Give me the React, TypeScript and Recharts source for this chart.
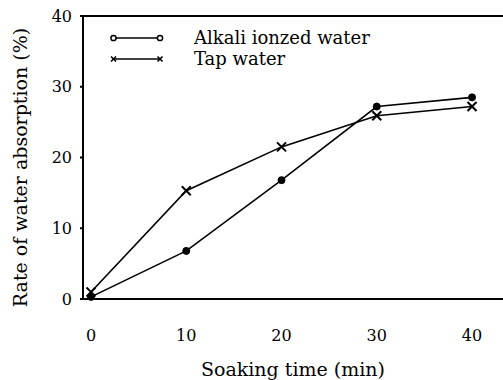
import React from 'react';
import { LineChart, Line, XAxis, YAxis, Legend, ReferenceLine, Label } from 'recharts';

const soakingTime = [0, 10, 20, 30, 40];
const alkaliWater = [0.3, 6.8, 16.8, 27.2, 28.5];
const tapWater = [1.0, 15.3, 21.5, 25.9, 27.2];
const xTicks = [0, 10, 20, 30, 40];
const yTicks = [0, 10, 20, 30, 40];
const seriesNames = ['Alkali ionzed water', 'Tap water'];

const data = soakingTime.map((t, i) => ({ t, alkali: alkaliWater[i], tap: tapWater[i] }));

const FONT = '"DejaVu Serif", serif';

const CircleDot = (props: any) => {
  const { cx, cy } = props;
  if (cx == null || cy == null) return null;
  return <circle cx={cx} cy={cy} r={3.5} fill="#000" stroke="#000" strokeWidth={1} />;
};

const CrossDot = (props: any) => {
  const { cx, cy } = props;
  if (cx == null || cy == null) return null;
  const s = 4.5;
  return (
    <g stroke="#000" strokeWidth={2}>
      <line x1={cx - s} y1={cy - s} x2={cx + s} y2={cy + s} />
      <line x1={cx - s} y1={cy + s} x2={cx + s} y2={cy - s} />
    </g>
  );
};

const LegendContent = () => (
  <div style={{ fontFamily: FONT, fontSize: 18, color: '#000', lineHeight: '20px' }}>
    {seriesNames.map((name, i) => (
      <div key={name} style={{ display: 'flex', alignItems: 'center', height: 20, marginBottom: 1 }}>
        <svg width={56} height={12} style={{ marginRight: 28 }}>
          <line x1={3} y1={6} x2={50} y2={6} stroke="#000" strokeWidth={1.3} />
          {i === 0 ? (
            <>
              <circle cx={3.5} cy={6} r={2.6} fill="#fff" stroke="#000" strokeWidth={1.5} />
              <circle cx={50} cy={6} r={2.6} fill="#fff" stroke="#000" strokeWidth={1.5} />
            </>
          ) : (
            <g stroke="#000" strokeWidth={1.6}>
              <line x1={1} y1={3.5} x2={6} y2={8.5} />
              <line x1={1} y1={8.5} x2={6} y2={3.5} />
              <line x1={47.5} y1={3.5} x2={52.5} y2={8.5} />
              <line x1={47.5} y1={8.5} x2={52.5} y2={3.5} />
            </g>
          )}
        </svg>
        <span>{name}</span>
      </div>
    ))}
  </div>
);

const YTitle = (props: any) => {
  const vb = props.viewBox || { x: 0, y: 0, width: 0, height: 0 };
  const x = vb.x + 20;
  const y = vb.y + vb.height / 2 + 10;
  return (
    <text
      x={x}
      y={y}
      transform={`rotate(-90, ${x}, ${y})`}
      textAnchor="middle"
      dominantBaseline="central"
      fontFamily={FONT}
      fontSize={19}
      fill="#000"
    >
      Rate of water absorption (%)
    </text>
  );
};

export default function App() {
  return (
    <div style={{ position: 'absolute', left: 0, top: 0, background: '#fff' }}>
      <LineChart width={503} height={380} data={data} margin={{ top: 16, right: 0, bottom: 0, left: 0 }}>
        <XAxis
          dataKey="t"
          type="number"
          domain={[-0.84, 43.25]}
          ticks={xTicks}
          allowDataOverflow
          tickLine={false}
          tickSize={6}
          tickMargin={25}
          axisLine={{ stroke: '#000', strokeWidth: 2 }}
          tick={{ fill: '#000', fontFamily: FONT, fontSize: 16 }}
          height={81}
        >
          <Label
            value="Soaking time (min)"
            position="insideBottom"
            offset={4}
            style={{ fill: '#000', fontFamily: FONT, fontSize: 19 }}
          />
        </XAxis>
        <YAxis
          type="number"
          domain={[0, 40]}
          ticks={yTicks}
          width={83}
          tickSize={3}
          tickMargin={8}
          tickLine={{ stroke: '#000', strokeWidth: 2 }}
          axisLine={{ stroke: '#000', strokeWidth: 2 }}
          tick={{ fill: '#000', fontFamily: FONT, fontSize: 16 }}
        >
          <Label content={<YTitle />} />
        </YAxis>
        <ReferenceLine y={40} stroke="#000" strokeWidth={2} />
        <Legend
          verticalAlign="middle"
          align="center"
          layout="vertical"
          content={<LegendContent />}
          wrapperStyle={{ position: 'absolute', top: 28, left: 110, width: 300 }}
        />
        <Line
          type="linear"
          dataKey="alkali"
          name={seriesNames[0]}
          stroke="#000"
          strokeWidth={1.6}
          dot={<CircleDot />}
          activeDot={false}
          isAnimationActive={false}
        />
        <Line
          type="linear"
          dataKey="tap"
          name={seriesNames[1]}
          stroke="#000"
          strokeWidth={1.6}
          dot={<CrossDot />}
          activeDot={false}
          isAnimationActive={false}
        />
      </LineChart>
    </div>
  );
}
